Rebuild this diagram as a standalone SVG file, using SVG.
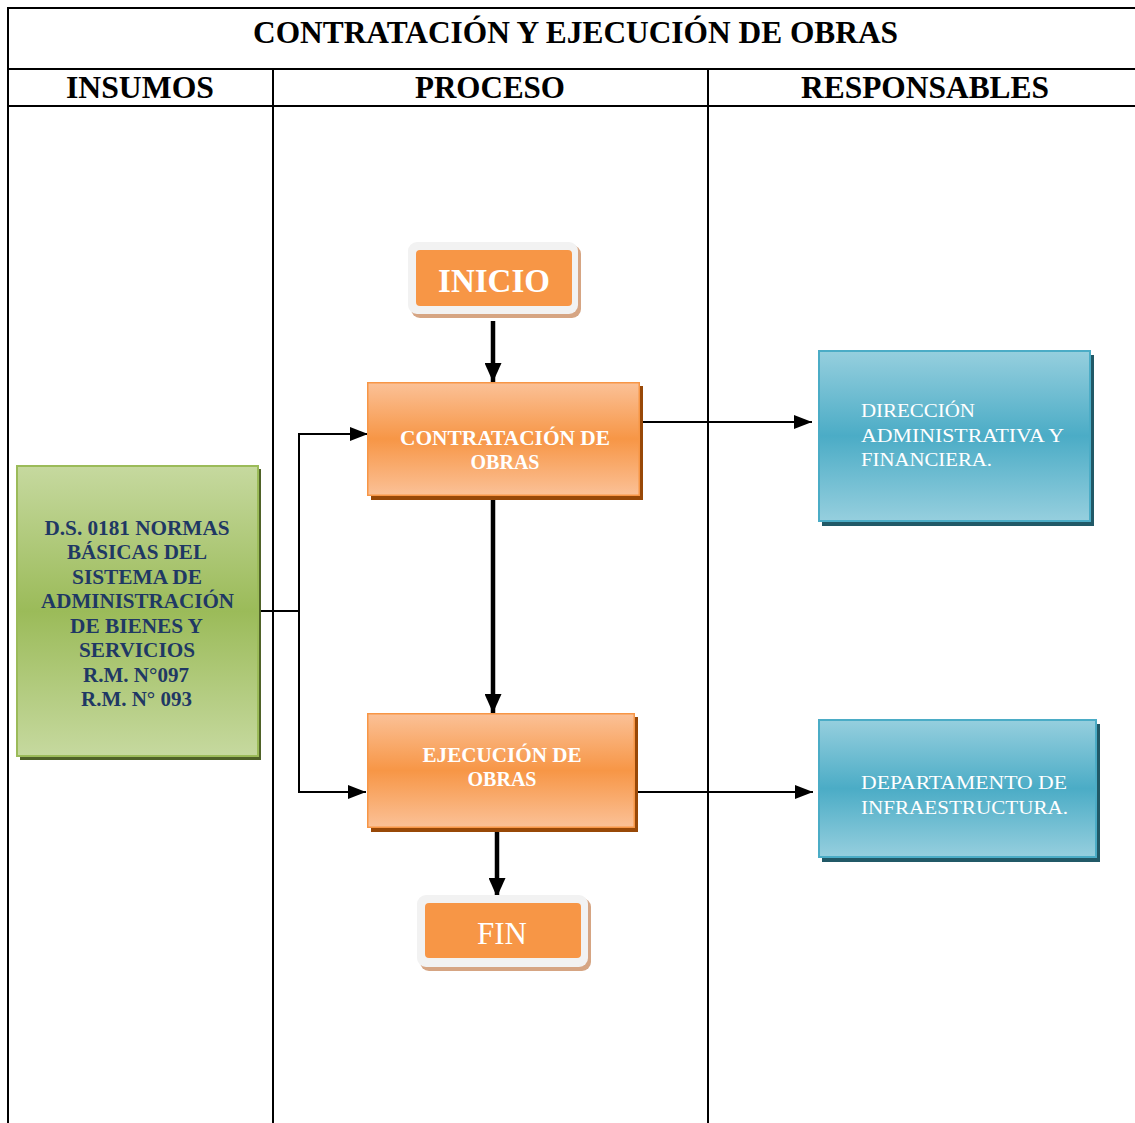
<svg xmlns="http://www.w3.org/2000/svg" width="1135" height="1123" viewBox="0 0 1135 1123">
  <style>
    .grid { stroke: #000; stroke-width: 2; fill: none; }
    .hdr { font-family: "Liberation Serif", "Times New Roman", serif; font-weight: bold; fill: #000; text-anchor: middle; }
    .wire { stroke: #000; stroke-width: 2; fill: none; }
    .flow { stroke: #000; stroke-width: 4.5; fill: none; }
    .proc-text { font-family: "Liberation Serif", "Times New Roman", serif; font-weight: bold; font-size: 20px; fill: #fff; text-anchor: middle; }
    .resp-text { font-family: "Liberation Serif", "Times New Roman", serif; font-size: 19.5px; fill: #fff; }
    .in-text { font-family: "Liberation Serif", "Times New Roman", serif; font-weight: bold; font-size: 20px; fill: #1f3864; text-anchor: middle; }
    .term-text { font-family: "Liberation Serif", "Times New Roman", serif; fill: #fff; text-anchor: middle; }
  </style>
  <defs>
    <linearGradient id="gOrange" x1="0" y1="0" x2="0" y2="1">
      <stop offset="0" stop-color="#fbc197"/>
      <stop offset="0.5" stop-color="#f79646"/>
      <stop offset="1" stop-color="#fbc197"/>
    </linearGradient>
    <linearGradient id="gGreen" x1="0" y1="0" x2="0" y2="1">
      <stop offset="0" stop-color="#c6d99f"/>
      <stop offset="0.5" stop-color="#9bbb59"/>
      <stop offset="1" stop-color="#c6d99f"/>
    </linearGradient>
    <linearGradient id="gBlue" x1="0" y1="0" x2="0" y2="1">
      <stop offset="0" stop-color="#96cfde"/>
      <stop offset="0.5" stop-color="#4bacc6"/>
      <stop offset="1" stop-color="#96cfde"/>
    </linearGradient>
    <marker id="headThin" markerUnits="userSpaceOnUse" markerWidth="18" markerHeight="14" refX="18" refY="7" orient="auto">
      <path d="M0,0 L18,7 L0,14 z" fill="#000"/>
    </marker>
    <marker id="headThick" markerUnits="userSpaceOnUse" markerWidth="19" markerHeight="17" refX="19" refY="8.5" orient="auto">
      <path d="M0,0 L19,8.5 L0,17 z" fill="#000"/>
    </marker>
  </defs>

  <rect width="1135" height="1123" fill="#fff"/>

  <!-- table frame -->
  <g id="table">
    <line class="grid" x1="8" y1="8" x2="1135" y2="8"/>
    <line class="grid" x1="8" y1="7" x2="8" y2="1123"/>
    <line class="grid" x1="8" y1="69" x2="1135" y2="69"/>
    <line class="grid" x1="8" y1="106" x2="1135" y2="106"/>
    <line class="grid" x1="273" y1="69" x2="273" y2="1123"/>
    <line class="grid" x1="708" y1="69" x2="708" y2="1123"/>
    <text class="hdr" x="575.5" y="43" font-size="32" textLength="645" lengthAdjust="spacingAndGlyphs">CONTRATACIÓN Y EJECUCIÓN DE OBRAS</text>
    <text class="hdr" x="140" y="98" font-size="31" textLength="148" lengthAdjust="spacingAndGlyphs">INSUMOS</text>
    <text class="hdr" x="490" y="98" font-size="31" textLength="150" lengthAdjust="spacingAndGlyphs">PROCESO</text>
    <text class="hdr" x="925" y="98" font-size="31" textLength="248" lengthAdjust="spacingAndGlyphs">RESPONSABLES</text>
  </g>

  <!-- connectors -->
  <g id="connectors">
    <line class="flow" x1="493" y1="321" x2="493" y2="382" marker-end="url(#headThick)"/>
    <line class="flow" x1="493" y1="500" x2="493" y2="713" marker-end="url(#headThick)"/>
    <line class="flow" x1="497" y1="832" x2="497" y2="897" marker-end="url(#headThick)"/>
    <polyline class="wire" points="259,611 299,611"/>
    <line class="wire" x1="299" y1="433" x2="299" y2="793"/>
    <line class="wire" x1="298" y1="434" x2="368" y2="434" marker-end="url(#headThin)"/>
    <line class="wire" x1="298" y1="792" x2="366" y2="792" marker-end="url(#headThin)"/>
    <line class="wire" x1="643" y1="422" x2="812" y2="422" marker-end="url(#headThin)"/>
    <line class="wire" x1="638" y1="792" x2="813" y2="792" marker-end="url(#headThin)"/>
  </g>

  <!-- start terminal -->
  <g id="inicio">
    <rect x="411" y="245" width="170" height="73" rx="9" fill="#d6a583"/>
    <rect x="408" y="242" width="170" height="72" rx="9" fill="#f2f2f2"/>
    <rect x="416" y="250" width="156" height="56" rx="4" fill="#f79646"/>
    <text class="term-text" x="494" y="292" font-size="33" font-weight="bold">INICIO</text>
  </g>

  <!-- process: contracting -->
  <g id="contratacion">
    <rect x="371" y="386" width="272" height="114" fill="#984807"/>
    <rect x="367.75" y="382.75" width="271.5" height="112.5" fill="url(#gOrange)" stroke="#f79646" stroke-width="1.5"/>
    <text class="proc-text" x="505" y="445" textLength="210" lengthAdjust="spacingAndGlyphs">CONTRATACIÓN DE</text>
    <text class="proc-text" x="505" y="469">OBRAS</text>
  </g>

  <!-- process: execution -->
  <g id="ejecucion">
    <rect x="371" y="717" width="267" height="115" fill="#984807"/>
    <rect x="367.75" y="713.75" width="266.5" height="113.5" fill="url(#gOrange)" stroke="#f79646" stroke-width="1.5"/>
    <text class="proc-text" x="502" y="762" textLength="159" lengthAdjust="spacingAndGlyphs">EJECUCIÓN DE</text>
    <text class="proc-text" x="502" y="786">OBRAS</text>
  </g>

  <!-- end terminal -->
  <g id="fin">
    <rect x="420" y="898" width="171" height="73" rx="9" fill="#d6a583"/>
    <rect x="417" y="895" width="171" height="72" rx="9" fill="#f2f2f2"/>
    <rect x="425" y="903" width="156" height="55" rx="4" fill="#f79646"/>
    <text class="term-text" x="502" y="944" font-size="31">FIN</text>
  </g>

  <!-- input regulations -->
  <g id="insumos">
    <rect x="20" y="469" width="241" height="291" fill="#4f6228"/>
    <rect x="17" y="466" width="241" height="290" fill="url(#gGreen)" stroke="#9bbb59" stroke-width="2"/>
    <text class="in-text" x="137" y="535" textLength="185" lengthAdjust="spacingAndGlyphs">D.S. 0181 NORMAS</text>
    <text class="in-text" x="137" y="559" textLength="140" lengthAdjust="spacingAndGlyphs">BÁSICAS DEL</text>
    <text class="in-text" x="137" y="584" textLength="130" lengthAdjust="spacingAndGlyphs">SISTEMA DE</text>
    <text class="in-text" x="137.5" y="608" textLength="193" lengthAdjust="spacingAndGlyphs">ADMINISTRACIÓN</text>
    <text class="in-text" x="136.5" y="633" textLength="133" lengthAdjust="spacingAndGlyphs">DE BIENES Y</text>
    <text class="in-text" x="137" y="657" textLength="116" lengthAdjust="spacingAndGlyphs">SERVICIOS</text>
    <text class="in-text" x="136" y="682" textLength="106" lengthAdjust="spacingAndGlyphs">R.M. N°097</text>
    <text class="in-text" x="136.5" y="706" textLength="111" lengthAdjust="spacingAndGlyphs">R.M. N° 093</text>
  </g>

  <!-- responsible: administrative direction -->
  <g id="direccion">
    <rect x="822" y="355" width="272" height="171" fill="#215967"/>
    <rect x="819" y="351" width="271" height="170" fill="url(#gBlue)" stroke="#4bacc6" stroke-width="2"/>
    <text class="resp-text" x="861" y="417" textLength="114" lengthAdjust="spacingAndGlyphs">DIRECCIÓN</text>
    <text class="resp-text" x="861" y="442" textLength="203" lengthAdjust="spacingAndGlyphs">ADMINISTRATIVA Y</text>
    <text class="resp-text" x="861" y="466" textLength="131" lengthAdjust="spacingAndGlyphs">FINANCIERA.</text>
  </g>

  <!-- responsible: infrastructure department -->
  <g id="infraestructura">
    <rect x="822" y="724" width="278" height="138" fill="#215967"/>
    <rect x="819" y="720" width="277" height="137" fill="url(#gBlue)" stroke="#4bacc6" stroke-width="2"/>
    <text class="resp-text" x="861" y="789" textLength="206" lengthAdjust="spacingAndGlyphs">DEPARTAMENTO DE</text>
    <text class="resp-text" x="861" y="814" textLength="207" lengthAdjust="spacingAndGlyphs">INFRAESTRUCTURA.</text>
  </g>
</svg>
